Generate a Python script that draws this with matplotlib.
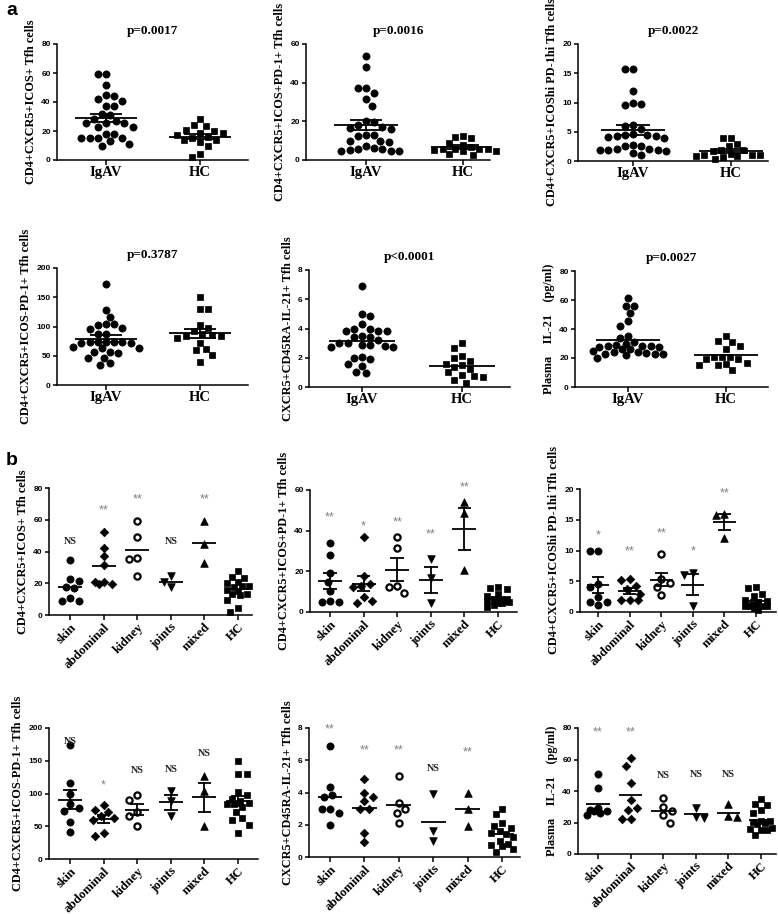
import numpy as np
import matplotlib
matplotlib.use('Agg')
import matplotlib.pyplot as plt

# ---------------- data ----------------
cats_a = ['IgAV', 'HC']
cats_b = ['skin', 'abdominal', 'kidney', 'joints', 'mixed', 'HC']

ylabels = ['CD4+CXCR5+ICOS+ Tfh cells',
           'CD4+CXCR5+ICOS+PD-1+ Tfh cells',
           'CD4+CXCR5+ICOShi PD-1hi Tfh cells',
           'CD4+CXCR5+ICOS-PD-1+ Tfh cells',
           'CXCR5+CD45RA-IL-21+ Tfh cells',
           'Plasma    IL-21    (pg/ml)']
p_values = ['p=0.0017', 'p=0.0016', 'p=0.0022', 'p=0.3787', 'p<0.0001', 'p=0.0027']
y_max = [80, 60, 20, 200, 8, 80]
y_step = [20, 20, 5, 50, 2, 20]

# panel a: IgAV vs HC
a1_igav = [59.5, 59.5, 52, 44.8, 43.8, 42, 41, 37, 37, 32, 28.5, 25.5, 25.5, 25.5, 23, 23,
           31, 18, 18, 27, 15.5, 15.5, 15.5, 15.5, 13, 11, 9.5]
a1_hc = [28, 24, 23.5, 21, 20, 18.5, 18.5, 17.5, 16, 15, 13.5, 13.5, 12.5, 9.5, 4.3, 2]
a2_igav = [54, 48, 37, 37, 34.5, 31.5, 28, 20, 19.5, 18, 17, 16.5, 13, 13, 12.5, 10, 10, 9.5,
           7.5, 5.5, 5, 4.5, 4.5, 4.5, 5.5, 6, 16]
a2_hc = [12.5, 12, 11.5, 9, 8, 5.5, 4.5, 5.5, 6.5, 5.5, 5.5, 4.5, 3.3, 2.5, 5]
a3_igav = [15.8, 15.8, 12, 10, 9.5, 9.8, 6.2, 6.0, 4.6, 4.5, 4.4, 4.2, 4.2, 4.0, 4.1, 2.7, 2.6,
           2.6, 2.0, 1.8, 1.8, 1.7, 1.9, 2.0, 1.0, 1.3, 5.5]
a3_hc = [4.0, 3.9, 2.6, 2.9, 1.9, 1.8, 1.7, 1.0, 1.0, 1.2, 0.9, 1.0, 0.9, 0.4, 0.6]
a4_igav = [173, 128, 116, 104, 104, 102, 98, 96, 88, 88, 74, 74, 73, 72, 73, 74, 72, 65, 64, 64,
           57, 54, 56, 47, 46, 38, 35]
a4_hc = [150, 130, 130, 102, 98, 92, 88, 85, 84, 84, 80, 72, 62, 60, 52, 40]
a5_igav = [6.9, 4.85, 5.0, 4.3, 3.85, 4.0, 3.95, 3.8, 3.85, 3.4, 3.4, 3.0, 2.85, 2.85, 2.8, 2.75,
           2.75, 3.0, 2.05, 2.0, 1.9, 1.55, 1.45, 1.0, 0.95, 3.2, 3.5]
a5_hc = [3.0, 2.65, 1.95, 2.1, 1.8, 1.5, 1.6, 1.4, 1.25, 0.8, 0.75, 1.0, 0.7, 0.5, 0.3]
a6_igav = [61.5, 56, 56, 51, 45.5, 42, 34, 35.5, 31, 30, 29, 28.5, 28, 27.5, 27.5, 28.5, 26, 26,
           25, 24, 22.5, 22, 20, 23, 23.5, 24, 23]
a6_hc = [35, 31.5, 31, 28, 26, 21, 21, 20.5, 19.5, 19, 16.5, 15, 16, 15, 12]

# panel b: clinical subgroups (HC identical to panel a)
b1_skin = [34.5, 22.5, 21.5, 17.5, 17, 10.5, 9, 9]
b1_abdominal = [52.5, 42.5, 37, 31.5, 21, 21, 19.5, 19.5]
b1_kidney = [59.5, 49, 36, 35.5, 24.5]
b1_joints = [24.5, 21, 17.5]
b1_mixed = [59, 45, 32.5]
b2_skin = [34, 28, 19, 15, 10.5, 5.5, 5, 5]
b2_abdominal = [37, 17.5, 14, 13, 12.5, 7.5, 4.5, 5.5]
b2_kidney = [37, 31.5, 13, 12.5, 9.5]
b2_joints = [26, 16.5, 4.5]
b2_mixed = [54, 48.5, 20.5]
b3_skin = [10, 10, 4.5, 4, 2.5, 1.7, 1.7, 1.1]
b3_abdominal = [5.3, 5.2, 4.2, 3.8, 3.0, 2.0, 2.0, 1.9]
b3_kidney = [9.5, 5.3, 4.7, 4.1, 2.8]
b3_joints = [6.3, 6.0, 1.0]
b3_mixed = [16, 15.8, 12]
b4_skin = [174, 116, 100, 84, 78, 74, 56, 41]
b4_abdominal = [83, 75, 72, 65, 62, 60, 39, 35]
b4_kidney = [98, 90, 72, 65, 51]
b4_joints = [104, 89, 66]
b4_mixed = [127, 104, 51]
b5_skin = [6.9, 4.35, 3.85, 3.75, 3.0, 3.0, 2.75, 2.0]
b5_abdominal = [4.85, 4.0, 3.75, 3.45, 3.0, 2.95, 1.5, 0.95]
b5_kidney = [5.0, 3.35, 3.0, 2.7, 2.1]
b5_joints = [3.9, 1.6, 1.0]
b5_mixed = [4.0, 3.0, 1.95]
b6_skin = [51, 42, 29, 28, 27.5, 27, 26, 25]
b6_abdominal = [61, 56, 45, 34, 29.5, 28, 22, 22]
b6_kidney = [35.5, 30, 27, 24.5, 20]
b6_joints = [29.5, 23.5, 23]
b6_mixed = [31.5, 24, 23.5]

# significance vs HC, and label heights
sig_b = [['NS', '**', '**', 'NS', '**'],
         ['**', '*', '**', '**', '**'],
         ['*', '**', '**', '*', '**'],
         ['NS', '*', 'NS', 'NS', 'NS'],
         ['**', '**', '**', 'NS', '**'],
         ['**', '**', 'NS', 'NS', 'NS']]
sig_y = [[46, 66, 73, 46, 73],
         [46.5, 42, 44, 38, 61.5],
         [12.4, 9.9, 12.7, 9.9, 19.3],
         [179, 112, 135, 136, 161],
         [7.9, 6.6, 6.6, 5.5, 6.5],
         [77, 77, 50, 50.5, 50.5]]

data_a = [[a1_igav, a1_hc], [a2_igav, a2_hc], [a3_igav, a3_hc],
          [a4_igav, a4_hc], [a5_igav, a5_hc], [a6_igav, a6_hc]]
data_b = [[b1_skin, b1_abdominal, b1_kidney, b1_joints, b1_mixed, a1_hc],
          [b2_skin, b2_abdominal, b2_kidney, b2_joints, b2_mixed, a2_hc],
          [b3_skin, b3_abdominal, b3_kidney, b3_joints, b3_mixed, a3_hc],
          [b4_skin, b4_abdominal, b4_kidney, b4_joints, b4_mixed, a4_hc],
          [b5_skin, b5_abdominal, b5_kidney, b5_joints, b5_mixed, a5_hc],
          [b6_skin, b6_abdominal, b6_kidney, b6_joints, b6_mixed, a6_hc]]
sem_a = [True, True, True, True, False, False]
sem_b = [False, True, True, True, False, False]

# ---------------- layout / style ----------------
W, H = 778, 914
fig = plt.figure(figsize=(W / 100, H / 100), dpi=100)
fig.patch.set_facecolor('white')
plt.rcParams['font.family'] = ['Liberation Serif', 'DejaVu Serif']

# (x0, x1, ytop, ybottom, first category px, last category px)
boxes_a = [(57, 248, 44, 160, 106, 200), (306, 490, 44, 160, 366, 463), (578, 768, 44, 161, 633, 731),
           (57, 248, 268, 385, 106, 200), (309, 510, 270, 387, 362, 462), (575, 768, 271, 387, 628, 726)]
boxes_b = [(49, 252, 488, 615, 70, 238), (310, 517, 490, 612, 330, 498), (580, 776, 489, 612, 598, 756),
           (49, 258, 728, 859, 70, 238), (309, 520, 728, 857, 330, 502), (578, 776, 728, 854, 598, 761)]

mk_a = [dict(marker='o', s=27, fc='k', ec='k', lw=0.5),
        dict(marker='s', s=24, fc='k', ec='k', lw=0.5)]
mk_b = [dict(marker='o', s=27, fc='k', ec='k', lw=0.5),
        dict(marker='D', s=19, fc='k', ec='k', lw=0.5),
        dict(marker='o', s=20, fc='white', ec='k', lw=1.6),
        dict(marker='v', s=30, fc='k', ec='k', lw=0.5),
        dict(marker='^', s=30, fc='k', ec='k', lw=0.5),
        dict(marker='s', s=24, fc='k', ec='k', lw=0.5)]

SANS = 'Liberation Sans'


def swarm(vals, ypp, d, maxw):
    vals = np.asarray(vals, float)
    order = np.argsort(-vals, kind='stable')
    placed = []
    offs = np.zeros(len(vals))
    step = d / 4
    kmax = int(maxw / step)
    for j, i in enumerate(order):
        y = vals[i] * ypp
        sign = 1 if j % 2 == 0 else -1
        best, best_md = None, -1
        for k in range(kmax + 1):
            cands = [0.0] if k == 0 else [sign * k * step, -sign * k * step]
            found = False
            for x in cands:
                md = min([np.hypot(x - px, y - py) for px, py in placed] or [1e9])
                if md >= d * 0.98:
                    best = x
                    found = True
                    break
                if md > best_md + 0.5:
                    best, best_md = x, md
            if found:
                break
        placed.append((best, y))
        offs[i] = best
    return offs


def draw(box, ymax, ystep, ylabel, groups, markers, cats, sem, rotate, mean_hw, cap_hw, d, maxw):
    x0, x1, yt, yb, c0, c1 = box
    ax = fig.add_axes([x0 / W, 1 - yb / H, (x1 - x0) / W, (yb - yt) / H])
    n = len(groups)
    unit = (c1 - c0) / (n - 1)
    ax.set_xlim((x0 - c0) / unit, (x1 - c0) / unit)
    ax.set_ylim(0, ymax)
    ypp = (yb - yt) / ymax
    for i, (vals, mk) in enumerate(zip(groups, markers)):
        v = np.asarray(vals, float)
        offs = swarm(v, ypp, d, maxw) / unit
        ax.scatter(i + offs, v, marker=mk['marker'], s=mk['s'], facecolors=mk['fc'],
                   edgecolors=mk['ec'], linewidths=mk['lw'], zorder=3, clip_on=False)
        m = v.mean()
        ax.plot([i - mean_hw, i + mean_hw], [m, m], color='k', lw=1.3, zorder=4,
                solid_capstyle='butt')
        if sem:
            se = v.std(ddof=1) / np.sqrt(len(v))
            ax.plot([i, i], [m - se, m + se], color='k', lw=1.3, zorder=4)
            for yy in (m - se, m + se):
                ax.plot([i - cap_hw, i + cap_hw], [yy, yy], color='k', lw=1.3, zorder=4,
                        solid_capstyle='butt')
    for s in ('top', 'right'):
        ax.spines[s].set_visible(False)
    for s in ('left', 'bottom'):
        ax.spines[s].set_linewidth(1.1)
    ax.set_yticks(np.arange(0, ymax + 1e-9, ystep))
    ax.set_yticklabels([f'{t:g}' for t in np.arange(0, ymax + 1e-9, ystep)],
                       family=SANS, fontweight='bold', fontsize=6)
    ax.tick_params(axis='y', length=3, width=1.1, pad=1.5)
    ax.tick_params(axis='x', length=3.5, width=1.1, pad=1)
    ax.set_xticks(range(n))
    if rotate:
        ax.set_xticklabels(cats, rotation=45, ha='right', rotation_mode='anchor',
                           fontsize=9.3, fontweight='bold')
    else:
        ax.set_xticklabels(cats, fontsize=10.5, fontweight='bold')
    ax.set_ylabel(ylabel, fontsize=8.8, fontweight='bold', labelpad=3)
    ax.patch.set_alpha(0)
    return ax


for k in range(6):
    ax = draw(boxes_a[k], y_max[k], y_step[k], ylabels[k], data_a[k], mk_a, cats_a,
              sem_a[k], False, 0.33, 0.17, 8.2, 36)
    ax.set_title(p_values[k], fontsize=9.5, fontweight='bold', pad=7)

for k in range(6):
    ax = draw(boxes_b[k], y_max[k], y_step[k], ylabels[k], data_b[k], mk_b, cats_b,
              sem_b[k], True, 0.36, 0.2, 8.5, 12)
    for i, (lab, yy) in enumerate(zip(sig_b[k], sig_y[k])):
        if lab == 'NS':
            ax.text(i, yy, lab, ha='center', va='center', fontsize=7.2, fontweight='bold',
                    color='#222222')
        else:
            ax.text(i, yy, lab, ha='center', va='center', fontsize=9, color='#808080',
                    family=SANS)

fig.text(6 / W, 1 - 2 / H, 'a', ha='left', va='top', fontsize=14, fontweight='bold', family=SANS)
fig.text(6 / W, 1 - 452 / H, 'b', ha='left', va='top', fontsize=14, fontweight='bold', family=SANS)

fig.savefig('out.png', dpi=100, facecolor='white')
